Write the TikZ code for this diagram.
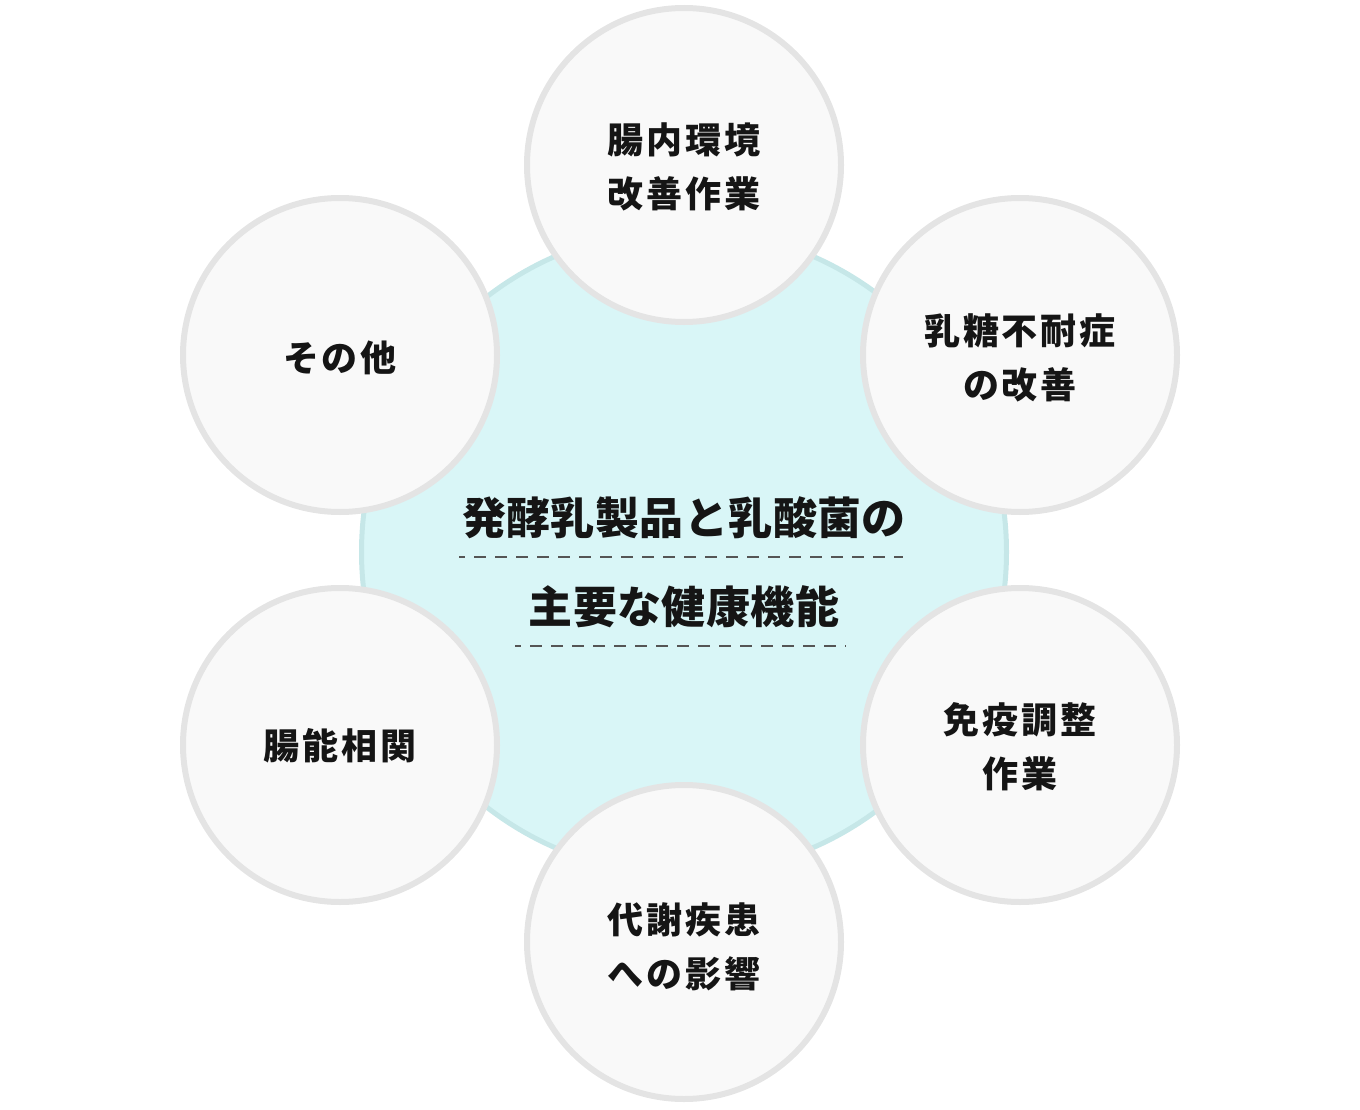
\documentclass[tikz,border=0pt]{standalone}
\usepackage{fontspec}
\newfontfamily\jpt{Noto Sans CJK JP}[LetterSpace=1]
\newfontfamily\jps{Noto Sans CJK JP}[LetterSpace=8]
\definecolor{bigfill}{HTML}{D9F6F7}
\definecolor{bigline}{HTML}{C6E7E8}
\definecolor{smfill}{HTML}{F9F9F9}
\definecolor{smline}{HTML}{E4E4E4}
\definecolor{txt}{HTML}{151515}
\definecolor{dash}{HTML}{555555}
\begin{document}
\begin{tikzpicture}[x=1pt,y=-1pt,
  bigc/.style={circle,draw=bigline,fill=bigfill,line width=5pt,minimum size=645pt,inner sep=0pt},
  smallc/.style={circle,draw=smline,fill=smfill,line width=6pt,minimum size=314pt,inner sep=0pt},
  title/.style={text=txt,font={\jpt\bfseries\fontsize{44}{50}\selectfont},inner sep=0pt},
  lab/.style={text=txt,align=center,font={\jps\bfseries\fontsize{36}{54}\selectfont},inner sep=0pt},
  dashline/.style={draw=dash,line width=1.5pt,dash pattern=on 12pt off 9pt,dash phase=6pt}]
\useasboundingbox (0,0) rectangle (1360,1110);
\node[bigc] (big) at (684,552) {};
\node[title] (t1) at (684,518) {発酵乳製品と乳酸菌の};
\node[title] (t2) at (684,607) {主要な健康機能};
\coordinate (d1a) at (459,557);
\coordinate (d1b) at (903,557);
\coordinate (d2a) at (515,646);
\coordinate (d2b) at (846,646);
\draw[dashline] (d1a) -- (d1b);
\draw[dashline] (d2a) -- (d2b);
\node[smallc] (c1) at (684,165) {};
\node[smallc] (c2) at (1020,355) {};
\node[smallc] (c3) at (1020,745) {};
\node[smallc] (c4) at (684,942) {};
\node[smallc] (c5) at (340,745) {};
\node[smallc] (c6) at (340,355) {};
\node[lab] (l1) at ([yshift=-2pt]c1) {腸内環境\\改善作業};
\node[lab] (l2) at ([yshift=-3pt]c2) {乳糖不耐症\\の改善};
\node[lab] (l3) at ([yshift=-2pt]c3) {免疫調整\\作業};
\node[lab] (l4) at ([yshift=-5pt]c4) {代謝疾患\\への影響};
\node[lab] (l5) at ([yshift=-1pt]c5) {腸能相関};
\node[lab] (l6) at ([yshift=-3pt]c6) {その他};
\end{tikzpicture}
\end{document}
